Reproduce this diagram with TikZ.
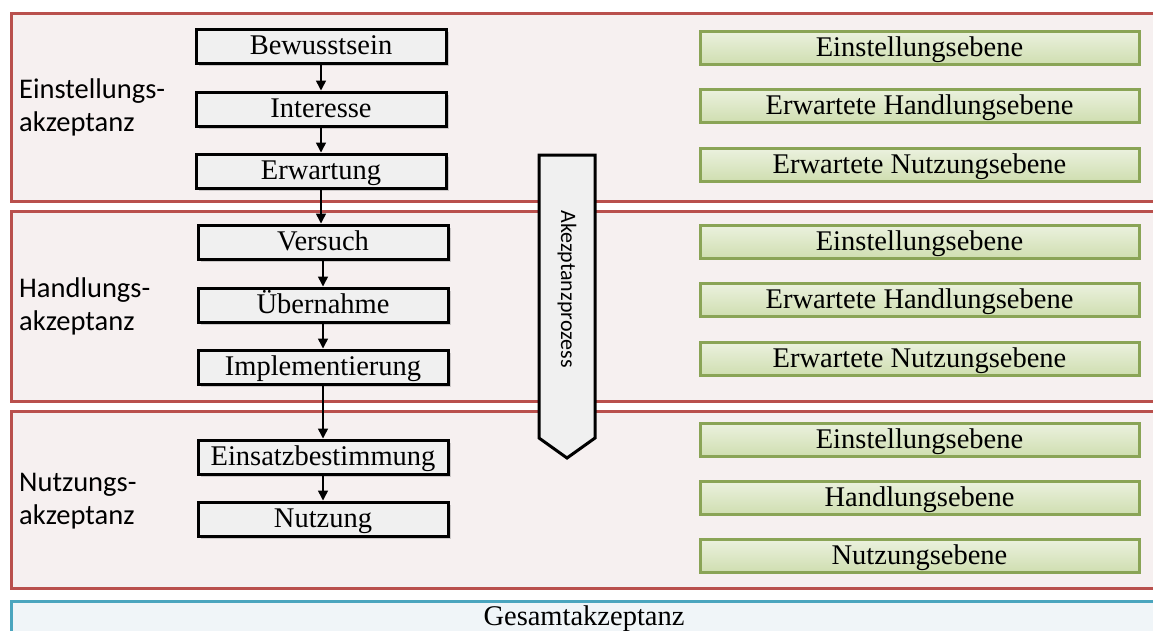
\documentclass[tikz,border=0pt]{standalone}
\usepackage{fontspec}
\setmainfont{Liberation Serif}
\newfontfamily\labelfont{Carlito}
\usetikzlibrary{arrows.meta,shadows}

\definecolor{panelfill}{RGB}{246,240,240}
\definecolor{paneldraw}{RGB}{185,80,77}
\definecolor{boxfill}{RGB}{240,240,240}
\definecolor{greentop}{RGB}{235,241,222}
\definecolor{greenbot}{RGB}{207,222,176}
\definecolor{greendraw}{RGB}{138,164,86}
\definecolor{totalfill}{RGB}{240,245,248}
\definecolor{totaldraw}{RGB}{75,165,190}

\tikzset{
  panel/.style={draw=paneldraw, fill=panelfill, line width=3pt,
    anchor=north west, inner sep=0pt},
  serifbox/.style={font=\fontsize{28.5}{32}\selectfont,
    text height=19pt, text depth=1.5pt},
  stepbox/.style={serifbox, draw=black, fill=boxfill, line width=3pt,
    minimum width=250pt, minimum height=34pt, inner sep=0pt,
    drop shadow={opacity=0.35, shadow xshift=2.5pt, shadow yshift=-2.5pt}},
  levelbox/.style={serifbox, draw=greendraw, top color=greentop, bottom color=greenbot,
    line width=3pt, minimum width=439pt, minimum height=33pt, inner sep=0pt},
  sidelabel/.style={anchor=west, align=left, inner sep=0pt,
    font=\labelfont\fontsize{28.5}{33}\selectfont},
  flow/.style={line width=1.5pt, -{Triangle[width=10pt,length=10pt]}},
  procshape/.style={draw=black, fill=boxfill, line width=3pt, line join=miter},
}

\begin{document}
\begin{tikzpicture}[x=1pt,y=-1pt]
\useasboundingbox (0,0) rectangle (1153,630);

% acceptance levels
\node[panel, minimum width=1148pt, minimum height=188pt] (pEin) at (10,12) {};
\node[panel, minimum width=1148pt, minimum height=190pt] (pHand) at (10,210) {};
\node[panel, minimum width=1148pt, minimum height=177pt] (pNutz) at (10,410) {};

% overall acceptance bar
\node[draw=totaldraw, fill=totalfill, line width=3pt, anchor=north west,
  minimum width=1148pt, minimum height=45pt, inner sep=0pt] (total) at (10,600) {};
\node[font=\fontsize{28.5}{32}\selectfont, inner sep=0pt, anchor=base] (totaltext) at (584,625) {Gesamtakzeptanz};

% side labels
\node[sidelabel] (lEin) at (19,107) {Einstellungs-\\akzeptanz};
\node[sidelabel] (lHand) at (19,306) {Handlungs-\\akzeptanz};
\node[sidelabel] (lNutz) at (19,501) {Nutzungs-\\akzeptanz};

% process steps
\node[stepbox] (s1) at (321,46) {Bewusstsein};
\node[stepbox] (s2) at (321,109) {Interesse};
\node[stepbox] (s3) at (321,171) {Erwartung};
\node[stepbox] (s4) at (323,242) {Versuch};
\node[stepbox] (s5) at (323,305) {Übernahme};
\node[stepbox] (s6) at (323,367) {Implementierung};
\node[stepbox] (s7) at (323,457) {Einsatzbestimmung};
\node[stepbox] (s8) at (323,519) {Nutzung};

\draw[flow] (s1.south) -- (s2.north);
\draw[flow] (s2.south) -- (s3.north);
\draw[flow] (s3.south) -- (s3.south |- s4.north);
\draw[flow] (s4.south) -- (s5.north);
\draw[flow] (s5.south) -- (s6.north);
\draw[flow] (s6.south) -- (s7.north);
\draw[flow] (s7.south) -- (s8.north);

% process arrow
\draw[procshape] (539,155) -- (595,155) -- (595,438) -- (567,458) -- (539,438) -- cycle;
\node[rotate=-90, font=\labelfont\fontsize{22}{24}\selectfont, inner sep=0pt] (proc) at (567,289) {Akezptanzprozess};

% levels per stage
\node[levelbox] (g1) at (919.5,48) {Einstellungsebene};
\node[levelbox] (g2) at (919.5,106) {Erwartete Handlungsebene};
\node[levelbox] (g3) at (919.5,165) {Erwartete Nutzungsebene};
\node[levelbox] (g4) at (919.5,242) {Einstellungsebene};
\node[levelbox] (g5) at (919.5,300) {Erwartete Handlungsebene};
\node[levelbox] (g6) at (919.5,359) {Erwartete Nutzungsebene};
\node[levelbox] (g7) at (919.5,440) {Einstellungsebene};
\node[levelbox] (g8) at (919.5,498) {Handlungsebene};
\node[levelbox] (g9) at (919.5,556) {Nutzungsebene};
\end{tikzpicture}
\end{document}
